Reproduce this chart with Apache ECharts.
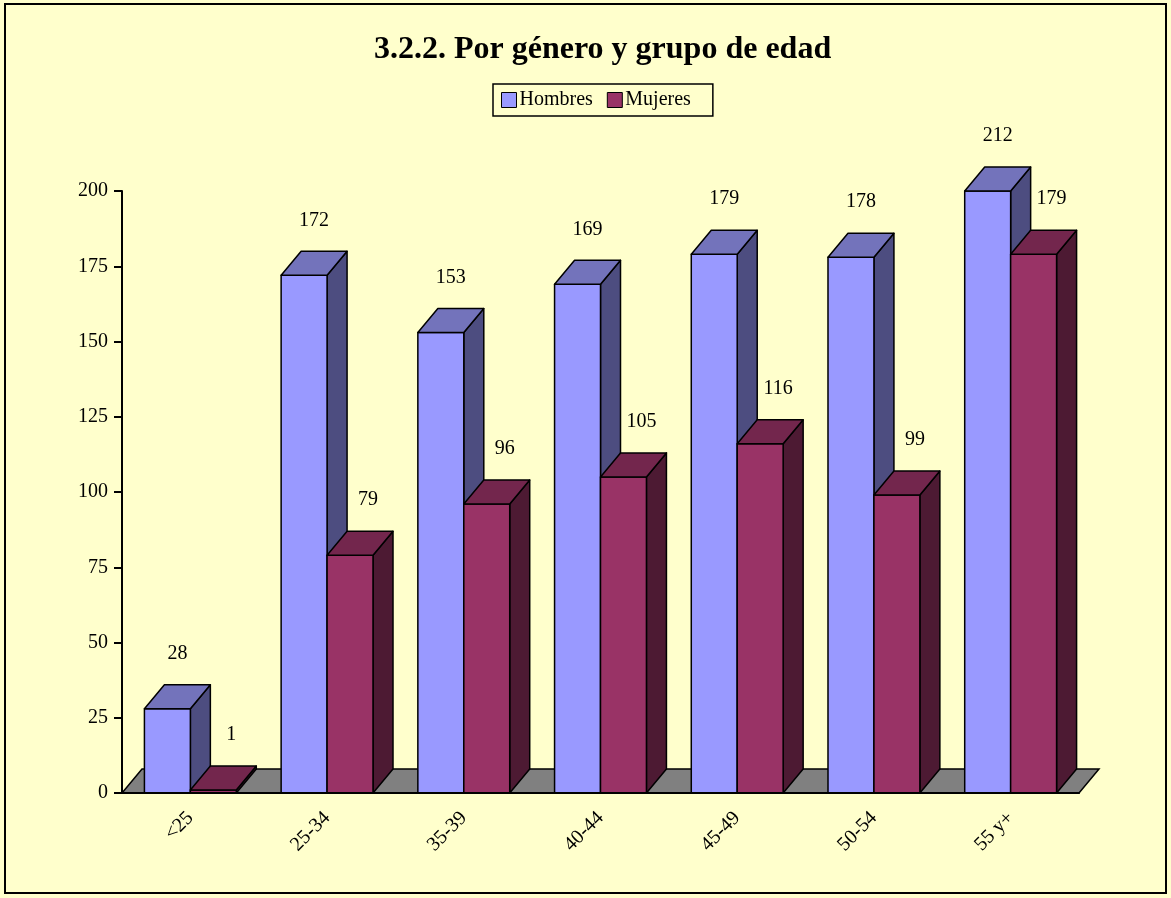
<!DOCTYPE html>
<html>
<head>
<meta charset="utf-8">
<script src="https://cdn.jsdelivr.net/npm/echarts@6/dist/echarts.min.js"></script>
<style>
html,body{margin:0;padding:0;background:#FFFFCC;}
#chart{width:1171px;height:898px;}
</style>
</head>
<body>
<div id="chart"></div>
<script>
var categories = ['<25', '25-34', '35-39', '40-44', '45-49', '50-54', '55 y+'];
var hombres = [28, 172, 153, 169, 179, 178, 212];
var mujeres = [1, 79, 96, 105, 116, 99, 179];
var yTicks = {min: 0, max: 200, interval: 25};

var FONT = '"Liberation Serif", "Times New Roman", serif';
var DX = 20, DY = -24;
var palette = [
  {front: '#9999FF', top: '#7373BB', side: '#4D4D80', labelDx: 10},
  {front: '#993366', top: '#73264D', side: '#4D1A33', labelDx: 18}
];

function barRenderer(s) {
  return function (params, api) {
    var i = api.value(0);
    var v = api.value(1);
    var vc = Math.min(v, yTicks.max);
    var band = api.size([1, 0])[0];
    var bw = band * 0.336;
    var base = api.coord([i, 0]);
    var topP = api.coord([i, vc]);
    var x0 = base[0] - bw + s * bw;
    var yT = topP[1], yB = base[1];
    var c = palette[s];
    var ls = {stroke: '#000', lineWidth: 1.5, lineJoin: 'round'};
    return {
      type: 'group',
      children: [
        {type: 'polygon', shape: {points: [[x0 + bw, yT], [x0 + bw + DX, yT + DY], [x0 + bw + DX, yB + DY], [x0 + bw, yB]]},
          style: Object.assign({fill: c.side}, ls)},
        {type: 'rect', shape: {x: x0, y: yT, width: bw, height: yB - yT},
          style: Object.assign({fill: c.front}, ls)},
        {type: 'polygon', shape: {points: [[x0, yT], [x0 + bw, yT], [x0 + bw + DX, yT + DY], [x0 + DX, yT + DY]]},
          style: Object.assign({fill: c.top}, ls)},
        {type: 'text', x: x0 + bw / 2 + c.labelDx, y: yT - 55,
          style: {text: String(v), fill: '#000', font: '20px ' + FONT, align: 'center', verticalAlign: 'middle'}}
      ]
    };
  };
}

function floorRenderer(params, api) {
  var cs = params.coordSys;
  var yb = cs.y + cs.height;
  return {
    type: 'polygon',
    shape: {points: [[cs.x, yb], [cs.x + cs.width, yb], [cs.x + cs.width + DX, yb + DY], [cs.x + DX, yb + DY]]},
    style: {fill: '#808080', stroke: '#000', lineWidth: 1.5}
  };
}

var chart = echarts.init(document.getElementById('chart'), null, {renderer: 'canvas'});
chart.setOption({
  backgroundColor: '#FFFFCC',
  animation: false,
  title: {
    text: '3.2.2. Por género y grupo de edad',
    left: 369, top: 29,
    textStyle: {fontFamily: FONT, fontSize: 32, fontWeight: 'bold', color: '#000'}
  },
  legend: {
    data: [
      {name: 'Hombres', itemStyle: {color: '#9999FF', borderColor: '#000', borderWidth: 1}},
      {name: 'Mujeres', itemStyle: {color: '#993366', borderColor: '#000', borderWidth: 1}}
    ],
    left: 493, top: 84,
    icon: 'rect', itemWidth: 15, itemHeight: 15, itemGap: 14,
    borderColor: '#000', borderWidth: 1.5, padding: [6, 22, 6, 8],
    textStyle: {fontFamily: FONT, fontSize: 20, color: '#000', padding: [0, 0, 0, -2]}
  },
  graphic: [{
    type: 'rect', shape: {x: 5, y: 4, width: 1161, height: 889},
    style: {fill: 'none', stroke: '#000', lineWidth: 2}, z: 100
  }],
  grid: {left: 122, right: 92, top: 191, bottom: 105},
  xAxis: {
    type: 'category', data: categories,
    axisLine: {show: true, lineStyle: {color: '#000', width: 2}},
    axisTick: {show: false},
    axisLabel: {rotate: 45, margin: 22, fontFamily: FONT, fontSize: 20, color: '#000'},
    z: 10
  },
  yAxis: {
    type: 'value', min: yTicks.min, max: yTicks.max, interval: yTicks.interval,
    axisLine: {show: true, lineStyle: {color: '#000', width: 2}},
    axisTick: {show: true, length: 8, lineStyle: {color: '#000', width: 2}},
    axisLabel: {margin: 14, fontFamily: FONT, fontSize: 20, color: '#000'},
    splitLine: {show: false}
  },
  series: [
    {type: 'custom', name: 'floor', data: [[0, 0]], renderItem: floorRenderer, silent: true, z: 1, clip: false},
    {type: 'custom', name: 'Hombres', data: hombres.map(function (v, i) { return [i, v]; }),
      renderItem: barRenderer(0), itemStyle: {color: '#9999FF'}, z: 2, clip: false},
    {type: 'custom', name: 'Mujeres', data: mujeres.map(function (v, i) { return [i, v]; }),
      renderItem: barRenderer(1), itemStyle: {color: '#993366'}, z: 3, clip: false}
  ]
});
</script>
</body>
</html>
